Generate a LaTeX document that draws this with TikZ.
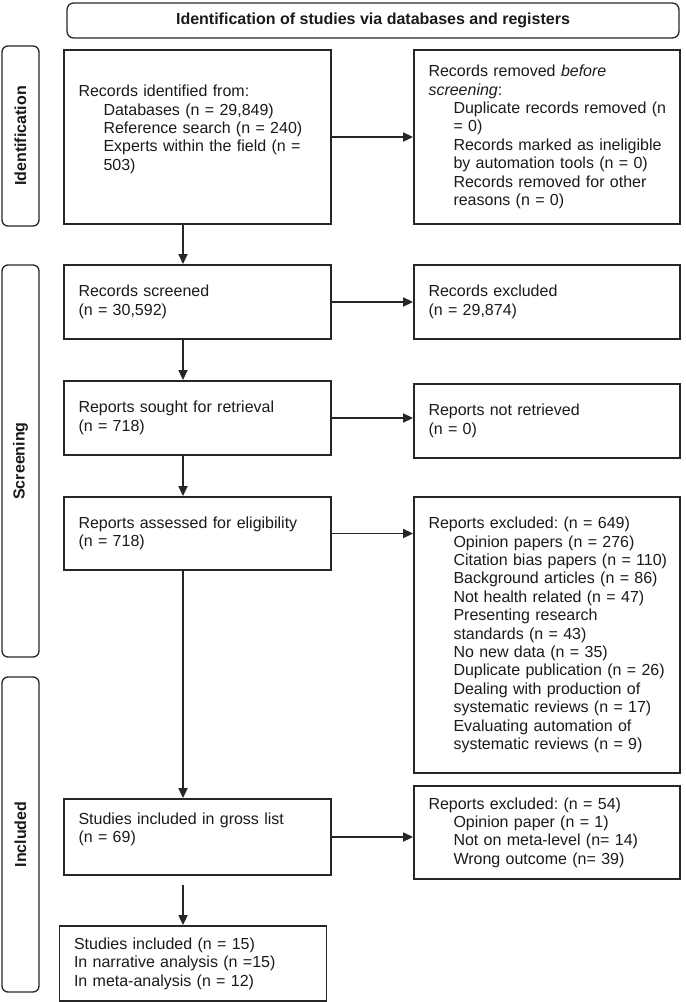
\documentclass[tikz,border=0pt]{standalone}
\usepackage{fontspec}
\setmainfont{Liberation Sans}
\usetikzlibrary{arrows.meta}
\definecolor{ln}{HTML}{262626}
\definecolor{tx}{HTML}{1A1A1A}
\newcommand\myind{\hspace*{18.75pt}}
\newcommand\oneline[1]{\mbox{#1}}
\frenchspacing
\begin{document}
\begin{tikzpicture}[x=0.75pt,y=-0.75pt,
  font=\fontsize{12}{13.8}\selectfont\frenchspacing, text=tx,
  box/.style={draw=ln, line width=1.4pt, rectangle, inner xsep=10.875pt, inner ysep=0pt, align=left, anchor=center},
  lbox/.style={box, text width=178.5pt},
  rbox/.style={box, text width=177.75pt},
  phase/.style={draw=ln, line width=1pt, rounded corners=4.5pt, minimum height=27.75pt, inner sep=0pt, font=\fontsize{12}{13.8}\selectfont\bfseries, rotate=90},
  arr/.style={draw=ln, line width=1.3pt, -{Triangle[length=7.5pt,width=6.75pt]}},
]
\useasboundingbox (0,0) rectangle (685,1002);

% title
\node[draw=ln, line width=1pt, rounded corners=5pt, minimum width=459pt, minimum height=26.25pt, inner sep=0pt, font=\fontsize{12}{13.8}\selectfont\bfseries] (title) at (373,20.5) {Identification of studies via databases and registers};

% phase labels
\node[phase, minimum width=135pt] (pid) at (20.5,136) {Identification};
\node[phase, minimum width=294pt] (psc) at (20.5,461) {Screening};
\node[phase, minimum width=236.25pt] (pin) at (20.5,834.5) {Included};

% left column
\node[lbox, minimum height=130.5pt] (b1) at (197.5,137) {Records identified from:\\ \oneline{\myind Databases (n = 29,849)}\\ \oneline{\myind Reference search (n = 240)}\\ \oneline{\myind Experts within the field (n =}\\ \myind 503)\\ \mbox{}};
\node[lbox, minimum height=55.5pt] (b3) at (197.5,302) {Records screened\\(n = 30,592)};
\node[lbox, minimum height=55.5pt] (b5) at (197.5,418) {Reports sought for retrieval\\(n = 718)};
\node[lbox, minimum height=54.75pt] (b7) at (197.5,533.5) {Reports assessed for eligibility\\(n = 718)};
\node[lbox, minimum height=57pt] (b9) at (197.5,837) {Studies included in gross list\\(n = 69)\\ \mbox{}};
\node[lbox, minimum height=56.25pt] (b11) at (193,963.5) {Studies included (n = 15)\\In narrative analysis (n =15)\\In meta-analysis (n = 12)};

% right column
\node[rbox, minimum height=130.5pt] (b2) at (547,137) {Records removed \textit{before}\\ \textit{screening}:\\ \oneline{\myind Duplicate records removed (n}\\ \myind = 0)\\ \oneline{\myind Records marked as ineligible}\\ \oneline{\myind by automation tools (n = 0)}\\ \oneline{\myind Records removed for other}\\ \myind reasons (n = 0)};
\node[rbox, minimum height=55.5pt] (b4) at (547,302) {Records excluded\\(n = 29,874)};
\node[rbox, minimum height=55.5pt] (b6) at (547,421) {Reports not retrieved\\(n = 0)};
\node[rbox, minimum height=207pt] (b8) at (547,635) {Reports excluded: (n = 649)\\ \oneline{\myind Opinion papers (n = 276)}\\ \oneline{\myind Citation bias papers (n = 110)}\\ \oneline{\myind Background articles (n = 86)}\\ \oneline{\myind Not health related (n = 47)}\\ \oneline{\myind Presenting research}\\ \oneline{\myind standards (n = 43)}\\ \oneline{\myind No new data (n = 35)}\\ \oneline{\myind Duplicate publication (n = 26)}\\ \oneline{\myind Dealing with production of}\\ \oneline{\myind systematic reviews (n = 17)}\\ \oneline{\myind Evaluating automation of}\\ \oneline{\myind systematic reviews (n = 9)}};
\node[rbox, minimum height=69.75pt] (b10) at (547,832.5) {Reports excluded: (n = 54)\\ \oneline{\myind Opinion paper (n = 1)}\\ \oneline{\myind Not on meta-level (n= 14)}\\ \oneline{\myind Wrong outcome (n= 39)}};

% connectors
\coordinate (ax) at (183,0);
\draw[arr] (b1.south -| ax) -- (b3.north -| ax);
\draw[arr] (b3.south -| ax) -- (b5.north -| ax);
\draw[arr] (b5.south -| ax) -- (b7.north -| ax);
\draw[arr] (b7.south -| ax) -- (b9.north -| ax);
\draw[arr, shorten <=6.75pt] (b9.south -| ax) -- (b11.north -| ax);

\draw[arr] (b1.east) -- (b2.west);
\draw[arr] (b3.east) -- (b4.west);
\draw[arr] (b5.east) -- (b5.east -| b6.west);
\draw[arr] (b7.east) -- (b7.east -| b8.west);
\draw[arr] (b9.east) -- (b9.east -| b10.west);
\end{tikzpicture}
\end{document}
